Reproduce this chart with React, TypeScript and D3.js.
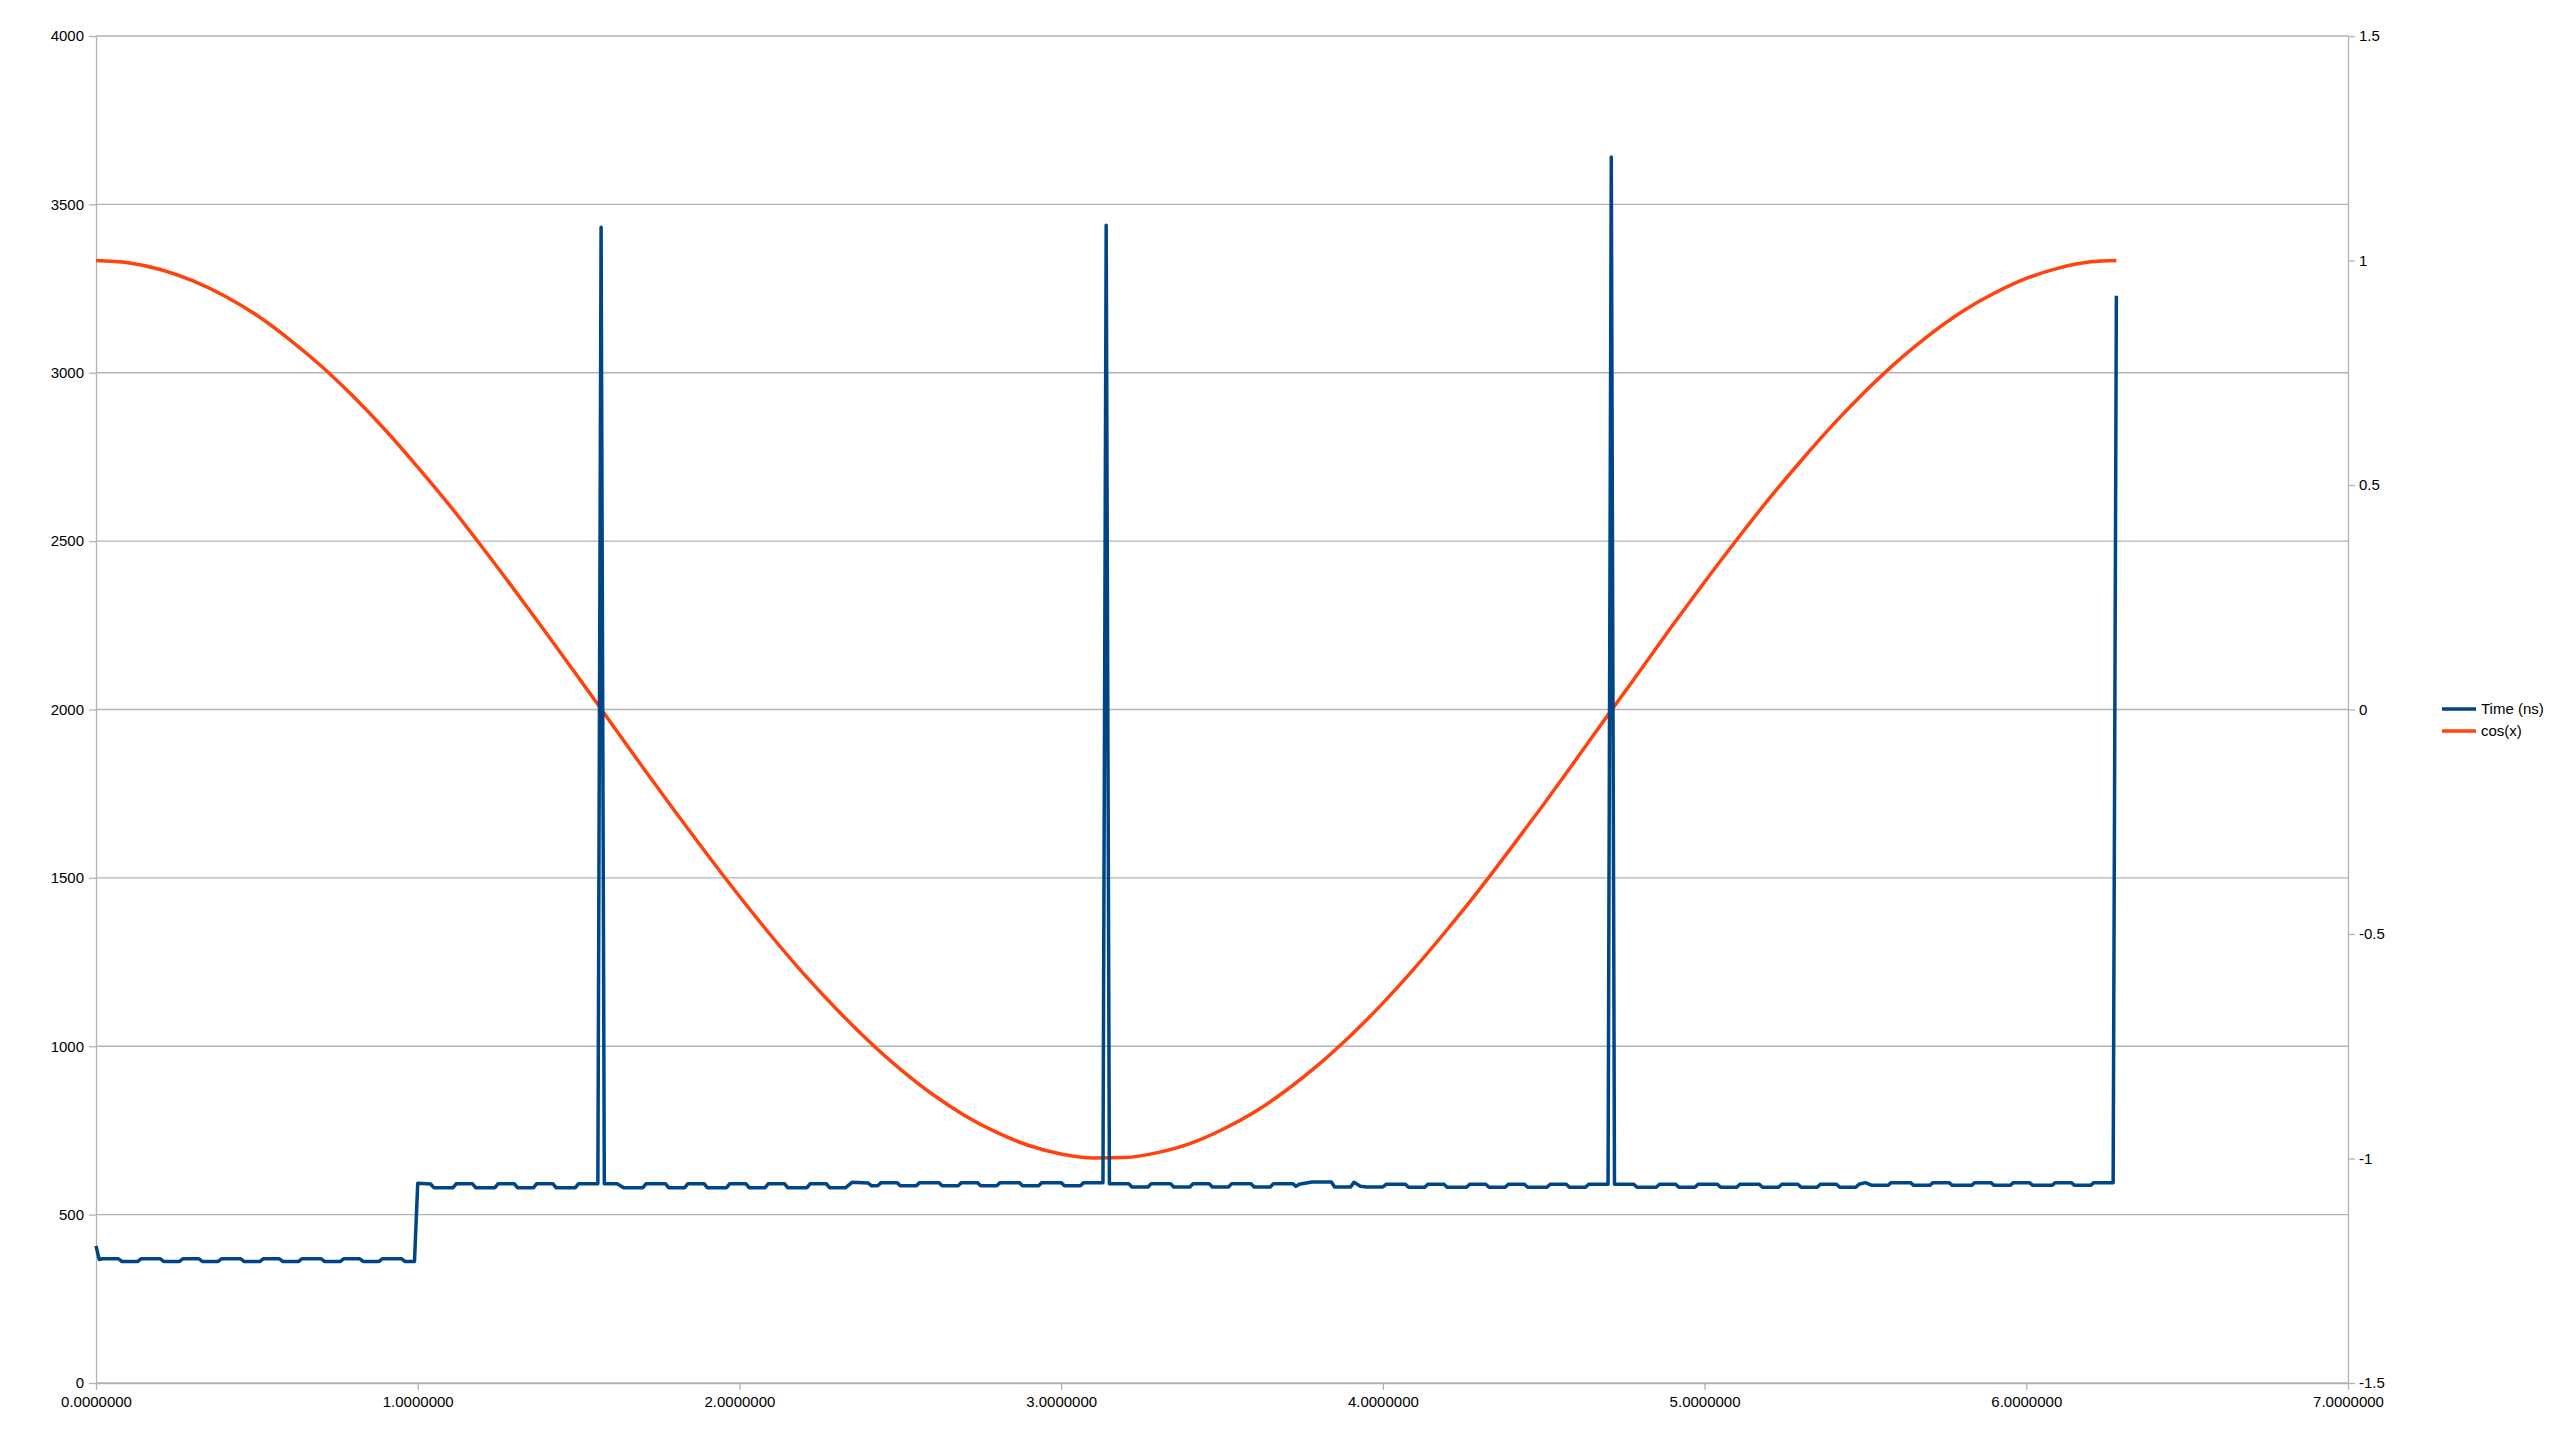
import { useEffect, useRef } from 'react';
import * as d3 from 'd3';

// Time (ns) series, read as corner points off the original chart
const timeSeries: [number, number][] = [
  [0.0, 407], [0.01, 367], [0.02, 369], [0.07, 369], [0.08, 361], [0.13, 361],
  [0.14, 369], [0.2, 369], [0.21, 361], [0.26, 361], [0.27, 369], [0.32, 369],
  [0.33, 361], [0.38, 361], [0.39, 369], [0.45, 369], [0.46, 361], [0.51, 361],
  [0.52, 369], [0.57, 369], [0.58, 361], [0.63, 361], [0.64, 369], [0.7, 369],
  [0.71, 361], [0.76, 361], [0.77, 369], [0.82, 369], [0.83, 361], [0.88, 361],
  [0.89, 369], [0.95, 369], [0.96, 361], [0.99, 361],
  [1.0, 593], [1.04, 591], [1.05, 580], [1.11, 580], [1.12, 592], [1.17, 592],
  [1.18, 580], [1.24, 580], [1.25, 592], [1.3, 592], [1.31, 580], [1.36, 580],
  [1.37, 592], [1.42, 592], [1.43, 580], [1.49, 580], [1.5, 592], [1.56, 592],
  [1.57, 3432], [1.58, 592], [1.62, 592], [1.64, 580], [1.7, 580], [1.71, 592],
  [1.77, 592], [1.78, 580], [1.83, 580], [1.84, 592], [1.89, 592], [1.9, 580],
  [1.96, 580], [1.97, 592], [2.02, 592], [2.03, 580], [2.08, 580], [2.09, 592],
  [2.14, 592], [2.15, 580], [2.21, 580], [2.22, 592], [2.27, 592], [2.28, 580],
  [2.33, 580], [2.35, 596], [2.4, 594], [2.41, 586], [2.43, 586], [2.44, 595],
  [2.49, 595], [2.5, 586], [2.55, 586], [2.56, 595], [2.62, 595], [2.63, 586],
  [2.68, 586], [2.69, 595], [2.74, 595], [2.75, 586], [2.8, 586], [2.81, 595],
  [2.87, 595], [2.88, 586], [2.93, 586], [2.94, 595], [3.0, 595], [3.01, 586],
  [3.06, 586], [3.07, 595], [3.13, 595], [3.14, 3438], [3.15, 592], [3.21, 592],
  [3.22, 582], [3.27, 582], [3.28, 592], [3.34, 592], [3.35, 582], [3.4, 582],
  [3.41, 592], [3.46, 592], [3.47, 582], [3.52, 582], [3.53, 592], [3.59, 592],
  [3.6, 582], [3.65, 582], [3.66, 592], [3.72, 592], [3.73, 584], [3.74, 590],
  [3.78, 597], [3.84, 597], [3.85, 582], [3.9, 582], [3.91, 596], [3.93, 584],
  [3.95, 582], [4.0, 582], [4.01, 590], [4.07, 590], [4.08, 581], [4.13, 581],
  [4.14, 590], [4.19, 590], [4.2, 581], [4.26, 581], [4.27, 590], [4.32, 590],
  [4.33, 581], [4.38, 581], [4.39, 590], [4.44, 590], [4.45, 581], [4.51, 581],
  [4.52, 590], [4.57, 590], [4.58, 581], [4.63, 581], [4.64, 590], [4.7, 590],
  [4.71, 3641], [4.72, 590], [4.78, 590], [4.79, 581], [4.85, 581], [4.86, 590],
  [4.91, 590], [4.92, 581], [4.97, 581], [4.98, 590], [5.04, 590], [5.05, 581],
  [5.1, 581], [5.11, 590], [5.17, 590], [5.18, 581], [5.23, 581], [5.24, 590],
  [5.29, 590], [5.3, 581], [5.35, 581], [5.36, 590], [5.41, 590], [5.42, 581],
  [5.47, 581], [5.48, 590], [5.5, 595], [5.52, 587], [5.57, 587], [5.58, 595],
  [5.64, 595], [5.65, 587], [5.7, 587], [5.71, 595], [5.76, 595], [5.77, 587],
  [5.83, 587], [5.84, 595], [5.89, 595], [5.9, 587], [5.95, 587], [5.96, 595],
  [6.01, 595], [6.02, 587], [6.08, 587], [6.09, 595], [6.14, 595], [6.15, 587],
  [6.2, 587], [6.21, 595], [6.27, 595], [6.28, 3229],
];

// cos(x) series
const cosX = [
  0.0, 0.1, 0.2, 0.3, 0.4, 0.5, 0.6, 0.7, 0.8, 0.9, 1.0, 1.1, 1.2, 1.3, 1.4, 1.5,
  1.6, 1.7, 1.8, 1.9, 2.0, 2.1, 2.2, 2.3, 2.4, 2.5, 2.6, 2.7, 2.8, 2.9, 3.0, 3.1,
  3.2, 3.3, 3.4, 3.5, 3.6, 3.7, 3.8, 3.9, 4.0, 4.1, 4.2, 4.3, 4.4, 4.5, 4.6, 4.7,
  4.8, 4.9, 5.0, 5.1, 5.2, 5.3, 5.4, 5.5, 5.6, 5.7, 5.8, 5.9, 6.0, 6.1, 6.2, 6.28,
];
const cosValues = [
  1.0, 0.995, 0.98, 0.955, 0.921, 0.878, 0.825, 0.765, 0.697, 0.622, 0.54, 0.454,
  0.362, 0.267, 0.17, 0.071, -0.029, -0.129, -0.227, -0.323, -0.416, -0.505,
  -0.589, -0.666, -0.737, -0.801, -0.857, -0.904, -0.942, -0.971, -0.99, -0.999,
  -0.998, -0.987, -0.967, -0.936, -0.897, -0.848, -0.791, -0.726, -0.654, -0.575,
  -0.49, -0.401, -0.307, -0.211, -0.112, -0.012, 0.087, 0.187, 0.284, 0.378,
  0.469, 0.554, 0.635, 0.709, 0.776, 0.835, 0.886, 0.927, 0.96, 0.983, 0.997, 1.0,
];

const xTicks = [0, 1, 2, 3, 4, 5, 6, 7];
const leftTicks = [0, 500, 1000, 1500, 2000, 2500, 3000, 3500, 4000];
const rightTicks = [-1.5, -1, -0.5, 0, 0.5, 1, 1.5];

const legendItems = [
  { label: 'Time (ns)', color: '#004586' },
  { label: 'cos(x)', color: '#ff420e' },
];

const W = 2560;
const H = 1440;
const plot = { left: 96, right: 2348, top: 36, bottom: 1383 };
const axisColor = '#b3b3b3';
const font = '"Liberation Sans", Arial, sans-serif';

const App = () => {
  const svgRef = useRef<SVGSVGElement>(null);

  useEffect(() => {
    if (!svgRef.current) return;
    const svg = d3.select(svgRef.current);
    svg.selectAll('*').remove();

    const x = d3.scaleLinear().domain([0, 7]).range([plot.left, plot.right]);
    const yLeft = d3.scaleLinear().domain([0, 4000]).range([plot.bottom, plot.top]);
    const yRight = d3.scaleLinear().domain([-1.5, 1.5]).range([plot.bottom, plot.top]);

    svg.append('rect').attr('width', W).attr('height', H).attr('fill', '#ffffff');

    // horizontal grid
    svg.append('g')
      .selectAll('line')
      .data(leftTicks)
      .enter()
      .append('line')
      .attr('x1', plot.left)
      .attr('x2', plot.right)
      .attr('y1', d => yLeft(d))
      .attr('y2', d => yLeft(d))
      .attr('stroke', axisColor)
      .attr('stroke-width', 1.3);

    // axes
    const styleAxis = (g: d3.Selection<SVGGElement, unknown, null, undefined>) => {
      g.select('.domain').attr('stroke', axisColor).attr('stroke-width', 1.3);
      g.selectAll('.tick line').attr('stroke', axisColor).attr('stroke-width', 1.3);
      g.selectAll('.tick text')
        .attr('fill', '#000000')
        .style('font-family', font)
        .style('font-size', '15px');
    };

    svg.append('g')
      .attr('transform', `translate(0,${plot.bottom})`)
      .call(
        d3.axisBottom(x)
          .tickValues(xTicks)
          .tickSize(7)
          .tickSizeOuter(0)
          .tickPadding(6)
          .tickFormat(d => (d as number).toFixed(7))
      )
      .call(styleAxis);

    svg.append('g')
      .attr('transform', `translate(${plot.left},0)`)
      .call(
        d3.axisLeft(yLeft)
          .tickValues(leftTicks)
          .tickSize(7)
          .tickSizeOuter(0)
          .tickPadding(5)
          .tickFormat(d => String(d))
      )
      .call(styleAxis);

    svg.append('g')
      .attr('transform', `translate(${plot.right},0)`)
      .call(
        d3.axisRight(yRight)
          .tickValues(rightTicks)
          .tickSize(7)
          .tickSizeOuter(0)
          .tickPadding(4)
          .tickFormat(d => String(d))
      )
      .call(styleAxis);

    // cos(x) line
    const cosLine = d3.line<number>()
      .x((_, i) => x(cosX[i]))
      .y(d => yRight(d))
      .curve(d3.curveMonotoneX);

    svg.append('path')
      .datum(cosValues)
      .attr('d', cosLine)
      .attr('fill', 'none')
      .attr('stroke', '#ff420e')
      .attr('stroke-width', 3.5)
      .attr('stroke-linejoin', 'round');

    // Time (ns) line
    const timeLine = d3.line<[number, number]>()
      .x(d => x(d[0]))
      .y(d => yLeft(d[1]));

    svg.append('path')
      .datum(timeSeries)
      .attr('d', timeLine)
      .attr('fill', 'none')
      .attr('stroke', '#004586')
      .attr('stroke-width', 3.5)
      .attr('stroke-linejoin', 'round');

    // legend
    const legend = svg.append('g').attr('transform', 'translate(2442, 709)');
    const items = legend.selectAll('g')
      .data(legendItems)
      .enter()
      .append('g')
      .attr('transform', (_, i) => `translate(0, ${i * 22})`);

    items.append('line')
      .attr('x1', 0)
      .attr('x2', 34)
      .attr('y1', 0)
      .attr('y2', 0)
      .attr('stroke', d => d.color)
      .attr('stroke-width', 3.5);

    items.append('text')
      .attr('x', 39)
      .attr('y', 0)
      .attr('dy', '0.35em')
      .style('font-family', font)
      .style('font-size', '15px')
      .attr('fill', '#000000')
      .text(d => d.label);
  }, []);

  return (
    <svg
      ref={svgRef}
      width={W}
      height={H}
      style={{ position: 'absolute', left: 0, top: 0, display: 'block' }}
    />
  );
};

export default App;
